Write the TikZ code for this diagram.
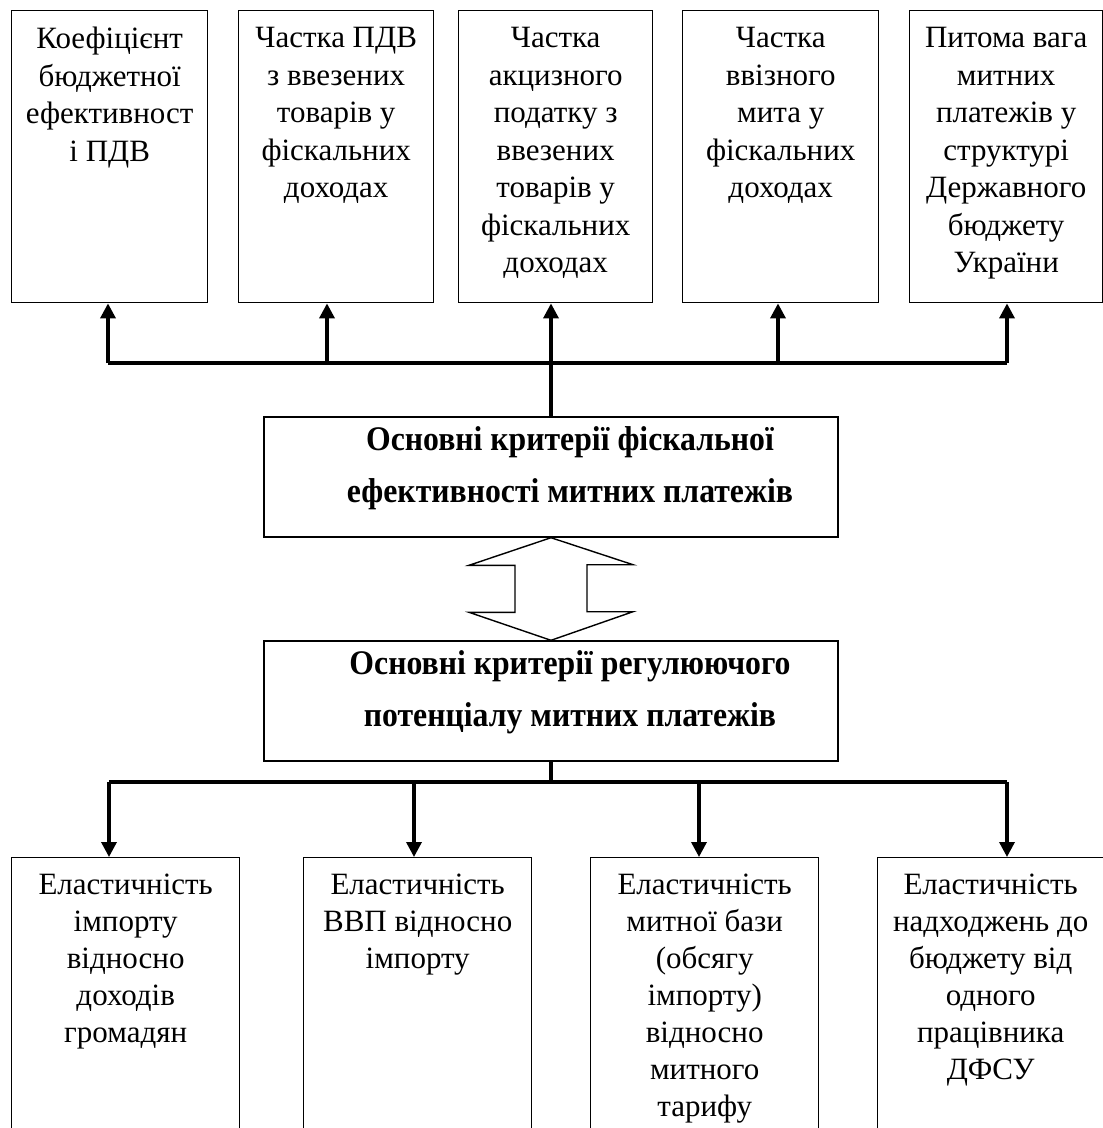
\documentclass[tikz,border=0pt]{standalone}
\usepackage{fontspec}
\setmainfont{Liberation Serif}
\newfontfamily\midfont{Liberation Serif}[FakeStretch=0.92]
\usetikzlibrary{arrows.meta,calc}
\begin{document}
\begin{tikzpicture}[x=1pt,y=-1pt,
  box/.style={draw,line width=1.4pt,rectangle,inner sep=0pt,anchor=north west},
  lbl/.style={anchor=north,inner sep=0pt,align=center,font=\fontsize{31}{37.5}\selectfont},
  lblb/.style={anchor=north,inner sep=0pt,align=center,font=\fontsize{31}{37}\selectfont},
  mid/.style={draw,line width=1.4pt,rectangle,inner sep=0pt,
    minimum width=574pt,minimum height=120pt},
  midtxt/.style={anchor=base,inner sep=0pt,font=\midfont\bfseries\fontsize{34.5}{40}\selectfont},
  conn/.style={line width=3.4pt,-{Triangle[width=15pt,length=15pt]}},
  bus/.style={line width=3.4pt}]
\useasboundingbox (0,0) rectangle (1103,1128);
\clip (0,0) rectangle (1103,1128);
% top boxes
\node[box,minimum width=196pt,minimum height=292pt] (t1) at (11,10) {};
\node[box,minimum width=195pt,minimum height=292pt] (t2) at (238,10) {};
\node[box,minimum width=194pt,minimum height=292pt] (t3) at (458,10) {};
\node[box,minimum width=196pt,minimum height=292pt] (t4) at (682,10) {};
\node[box,minimum width=193pt,minimum height=292pt] (t5) at (909,10) {};
\node[lbl] (l1) at ($(t1.north)+(0,17)$) {Коефіцієнт\\бюджетної\\ефективност\\і ПДВ};
\node[lbl] (l2) at ($(t2.north)+(0,17)$) {Частка ПДВ\\з ввезених\\товарів у\\фіскальних\\доходах};
\node[lbl] (l3) at ($(t3.north)+(0,17)$) {Частка\\акцизного\\податку з\\ввезених\\товарів у\\фіскальних\\доходах};
\node[lbl] (l4) at ($(t4.north)+(0,17)$) {Частка\\ввізного\\мита у\\фіскальних\\доходах};
\node[lbl] (l5) at ($(t5.north)+(0,17)$) {Питома вага\\митних\\платежів у\\структурі\\Державного\\бюджету\\України};
% middle boxes
\node[mid] (m1) at (551,477) {};
\node[mid] (m2) at (551,701) {};
\node[midtxt] (m1a) at ($(m1.north)+(19,34)$) {Основні критерії фіскальної};
\node[midtxt] (m1b) at ($(m1.north)+(19,86)$) {ефективності митних платежів};
\node[midtxt] (m2a) at ($(m2.north)+(19,34)$) {Основні критерії регулюючого};
\node[midtxt] (m2b) at ($(m2.north)+(19,86)$) {потенціалу митних платежів};
% bottom boxes
\node[box,minimum width=228pt,minimum height=300pt] (b1) at (11,857) {};
\node[box,minimum width=228pt,minimum height=300pt] (b2) at (303,857) {};
\node[box,minimum width=228pt,minimum height=300pt] (b3) at (590,857) {};
\node[box,minimum width=226pt,minimum height=300pt] (b4) at (877,857) {};
\node[lblb] (k1) at ($(b1.north)+(0,17)$) {Еластичність\\імпорту\\відносно\\доходів\\громадян};
\node[lblb] (k2) at ($(b2.north)+(0,17)$) {Еластичність\\ВВП відносно\\імпорту};
\node[lblb] (k3) at ($(b3.north)+(0,17)$) {Еластичність\\митної бази\\(обсягу\\імпорту)\\відносно\\митного\\тарифу};
\node[lblb] (k4) at ($(b4.north)+(0,17)$) {Еластичність\\надходжень до\\бюджету від\\одного\\працівника\\ДФСУ};
% top connectors
\draw[conn] (m1.north) -- (m1.north |- t3.south);
\draw[bus] (108,363) coordinate (bTL) -- (1007,363) coordinate (bTR);
\draw[conn] (bTL) -- (bTL |- t1.south);
\draw[conn] (327,363) coordinate (bT2) -- (bT2 |- t2.south);
\draw[conn] (778,363) coordinate (bT4) -- (bT4 |- t4.south);
\draw[conn] (bTR) -- (bTR |- t5.south);
% double arrow between middle boxes
\draw[line width=1.4pt,line join=miter]
  (m1.south) -- ++(82,27) -- ++(-46,0) -- ++(0,47) -- ++(46,0)
  -- (m2.north) -- ++(-82,-28) -- ++(46,0) -- ++(0,-47) -- ++(-46,0) -- cycle;
% bottom connectors
\coordinate (busB) at (m2.south |- 0,782);
\draw[bus] (m2.south) -- (busB);
\draw[bus] (109,782) coordinate (bBL) -- (1007,782) coordinate (bBR);
\draw[conn] (bBL) -- (bBL |- b1.north);
\draw[conn] (414,782) coordinate (bB2) -- (bB2 |- b2.north);
\draw[conn] (699,782) coordinate (bB3) -- (bB3 |- b3.north);
\draw[conn] (bBR) -- (bBR |- b4.north);
\end{tikzpicture}
\end{document}
